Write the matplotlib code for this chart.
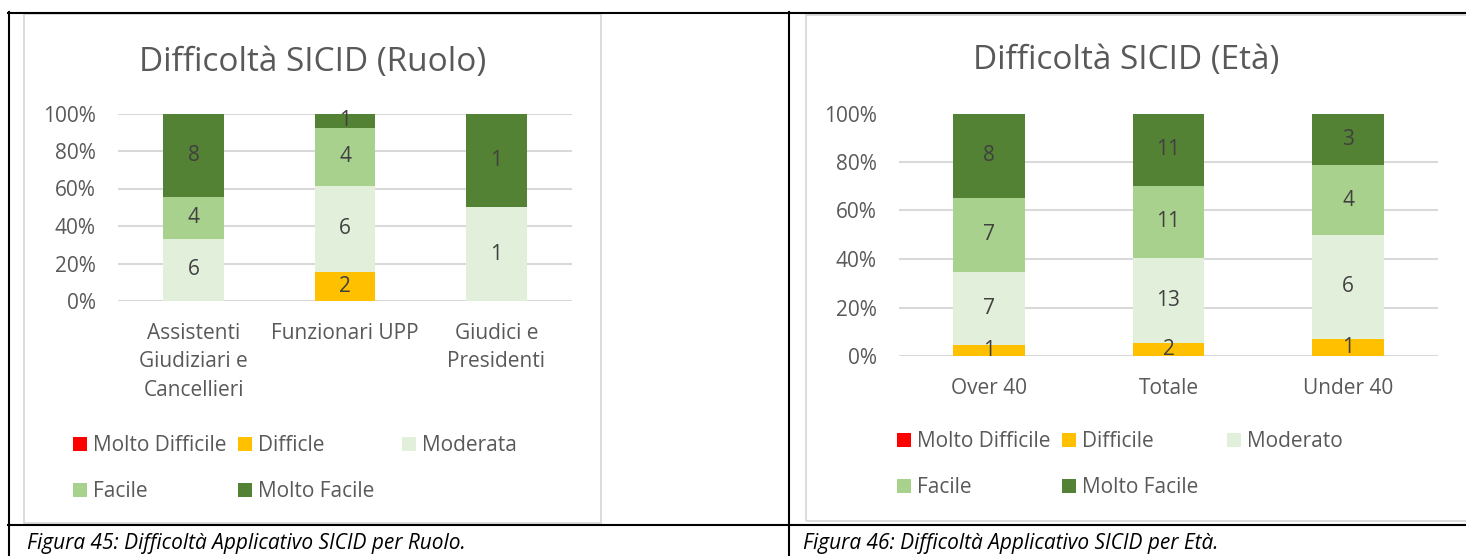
import matplotlib
matplotlib.use("Agg")
import matplotlib.pyplot as plt
from matplotlib.patches import Rectangle, Patch
from matplotlib.lines import Line2D
import numpy as np

# ---------------- data ----------------
series_names_left = ["Molto Difficile", "Difficle", "Moderata", "Facile", "Molto Facile"]
series_names_right = ["Molto Difficile", "Difficile", "Moderato", "Facile", "Molto Facile"]
colors = ["#FF0000", "#FFC000", "#E2EFDA", "#A9D18E", "#548235"]

roles = ["Assistenti\nGiudiziari e\nCancellieri", "Funzionari UPP", "Giudici e\nPresidenti"]
role_molto_difficile = [0, 0, 0]
role_difficile = [0, 2, 0]
role_moderata = [6, 6, 1]
role_facile = [4, 4, 0]
role_molto_facile = [8, 1, 1]

ages = ["Over 40", "Totale", "Under 40"]
age_molto_difficile = [0, 0, 0]
age_difficile = [1, 2, 1]
age_moderato = [7, 13, 6]
age_facile = [7, 11, 4]
age_molto_facile = [8, 11, 3]

title_left = "Difficoltà SICID (Ruolo)"
title_right = "Difficoltà SICID (Età)"
caption_left = "Figura 45: Difficoltà Applicativo SICID per Ruolo."
caption_right = "Figura 46: Difficoltà Applicativo SICID per Età."
yticks = [0, 20, 40, 60, 80, 100]

# ---------------- style ----------------
FONT = "Open Sans"
plt.rcParams["font.family"] = [FONT, "DejaVu Sans"]
TXT = "#595959"
LBL = "#404040"
GRID = "#D9D9D9"
FS = 15

W, H = 1466, 556
fig = plt.figure(figsize=(W / 100, H / 100), dpi=100)
fig.patch.set_facecolor("white")


def fx(x):
    return x / W


def fy(y):
    return 1 - y / H


def stacked(ax, cats, series, tick_pad_x):
    arr = np.array(series, dtype=float)
    totals = arr.sum(axis=0)
    pct = arr / totals * 100
    x = np.arange(len(cats))
    bottom = np.zeros(len(cats))
    for vals, p, c in zip(arr, pct, colors):
        bars = ax.bar(x, p, 0.4, bottom=bottom, color=c, zorder=3)
        labels = [("%d" % v) if v > 0 else "" for v in vals]
        ax.bar_label(bars, labels=labels, label_type="center", color=LBL,
                     fontsize=FS, zorder=4)
        bottom += p
    ax.set_xlim(-0.5, len(cats) - 0.5)
    ax.set_ylim(0, 100)
    ax.set_yticks(yticks)
    ax.set_yticklabels(["%d%%" % t for t in yticks])
    ax.set_xticks(x)
    ax.set_xticklabels(cats, linespacing=1.47)
    ax.yaxis.grid(True, color=GRID, lw=1.5, zorder=0)
    ax.set_axisbelow(True)
    for s in ax.spines.values():
        s.set_visible(False)
    ax.tick_params(axis="y", length=0, pad=16, labelsize=FS, labelcolor=TXT)
    ax.tick_params(axis="x", length=0, pad=tick_pad_x, labelsize=FS, labelcolor=TXT)


def legend_cols(names, xs, y0):
    # columns: [0,3], [1,4], [2]
    cols = [[0, 3], [1, 4], [2]]
    for xc, idx in zip(xs, cols):
        handles = [Patch(facecolor=colors[i], edgecolor="none", label=names[i]) for i in idx]
        fig.legend(handles=handles, loc="upper left",
                   bbox_to_anchor=(fx(xc), fy(y0)), frameon=False,
                   fontsize=FS, handlelength=0.68, handleheight=0.68,
                   handletextpad=0.3, labelspacing=1.2, borderpad=0,
                   borderaxespad=0, labelcolor=TXT)


# ---------------- left chart ----------------
axL = fig.add_axes([fx(118), fy(301), fx(572) - fx(118), fy(113.5) - fy(301)])
stacked(axL, roles,
        [role_molto_difficile, role_difficile, role_moderata, role_facile, role_molto_facile],
        15.5)
fig.text(fx(313), fy(62), title_left, ha="center", va="center", fontsize=24, color=TXT)
legend_cols(series_names_left, [73, 238, 402], 435)

# ---------------- right chart ----------------
axR = fig.add_axes([fx(899), fy(356), fx(1438) - fx(899), fy(113.5) - fy(356)])
stacked(axR, ages,
        [age_molto_difficile, age_difficile, age_moderato, age_facile, age_molto_facile],
        16)
fig.text(fx(1126), fy(60), title_right, ha="center", va="center", fontsize=24, color=TXT)
legend_cols(series_names_right, [897, 1062, 1227], 431)

# ---------------- chart frames ----------------
fig.add_artist(Rectangle((fx(24), fy(523)), fx(601) - fx(24), fy(14.5) - fy(523),
                         transform=fig.transFigure, fill=False, edgecolor=GRID, lw=1.3))
fig.add_artist(Rectangle((fx(806), fy(521)), fx(1480) - fx(806), fy(14.5) - fy(521),
                         transform=fig.transFigure, fill=False, edgecolor=GRID, lw=1.3))

# ---------------- table borders ----------------
def hline(y, x0, x1):
    fig.add_artist(Line2D([fx(x0), fx(x1)], [fy(y), fy(y)], transform=fig.transFigure,
                          color="black", lw=1.5))


def vline(x, y0, y1):
    fig.add_artist(Line2D([fx(x), fx(x)], [fy(y0), fy(y1)], transform=fig.transFigure,
                          color="black", lw=1.5))


hline(12.5, 8, W)
hline(524.5, 8, W)
vline(8.5, 12, H)
vline(789, 12, H)

# ---------------- captions ----------------
fig.text(fx(27), fy(543), caption_left, ha="left", va="center", fontsize=15,
         style="italic", color="black")
fig.text(fx(803), fy(543), caption_right, ha="left", va="center", fontsize=15,
         style="italic", color="black")

fig.savefig("out.png", dpi=100, facecolor="white")
